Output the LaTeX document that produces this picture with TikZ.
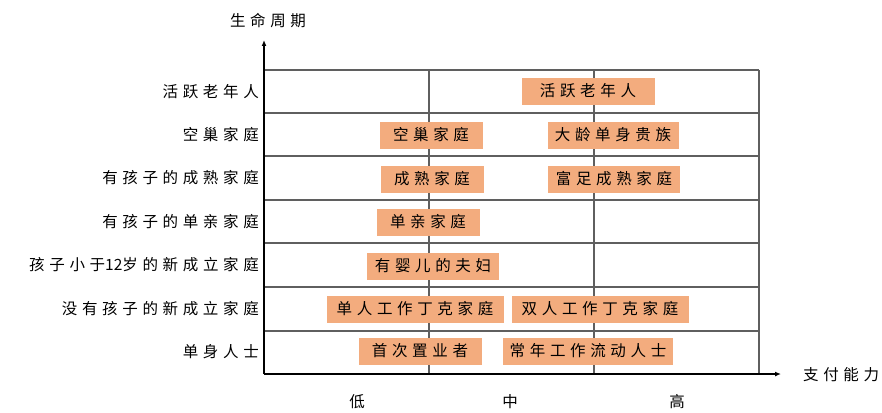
\documentclass[tikz,border=0pt]{standalone}
\usepackage{fontspec}
\setmainfont{Noto Sans CJK SC}[LetterSpace=30]
\usetikzlibrary{positioning, arrows.meta}

\definecolor{cellorange}{RGB}{243,172,126}
\definecolor{gridgray}{RGB}{95,95,95}

\begin{document}
\begin{tikzpicture}[
    x=1pt, y=-1pt,
    >={Latex[length=6pt, width=5pt]},
    cell/.style={fill=cellorange, minimum height=27pt, inner sep=0pt, font=\fontsize{15.5}{17}\selectfont},
    row_label/.style={anchor=east, inner sep=0pt, font=\fontsize{15.5}{17}\selectfont},
    axis_label/.style={inner sep=0pt, font=\fontsize{15.5}{17}\selectfont},
    grid_line/.style={gridgray, line width=1.2pt},
    axis_line/.style={->, black, line width=1.4pt}
]
\useasboundingbox (0,0) rectangle (882,412);

% 1. axes
\coordinate (origin) at (264,374);
\coordinate (ytip) at (264,40);
\coordinate (xtip) at (781,374);

% 2. grid
\foreach \yy in {70,113,156,200,243,287,331}
    \draw[grid_line] (264,\yy) -- (759,\yy);
\draw[grid_line] (429,70) -- (429,374);
\draw[grid_line] (594,70) -- (594,374);
\draw[grid_line] (759,70) -- (759,374);

\draw[axis_line] (origin) -- (ytip);
\draw[axis_line] (origin) -- (xtip);

\node[axis_label] (ytitle) at (268,21) {生命周期};
\node[axis_label, anchor=west] (xtitle) at (803,375) {支付能力};
\node[axis_label] (low) at (357,402) {低};
\node[axis_label] (mid) at (510,402) {中};
\node[axis_label] (high) at (677,402) {高};

% 3. row labels
\node[row_label] (r_old) at (259,92) {活跃老年人};
\node[row_label] (r_empty) at (259,135) {空巢家庭};
\node[row_label] (r_mature) at (259,178) {有孩子的成熟家庭};
\node[row_label] (r_single_parent) at (259,222) {有孩子的单亲家庭};
\node[row_label] (r_young_kids) at (259,265) {孩子小于{\addfontfeature{LetterSpace=0}12}岁的新成立家庭};
\node[row_label] (r_dink) at (259,309) {没有孩子的新成立家庭};
\node[row_label] (r_single) at (259,352) {单身人士};

% 4. cells
\node[cell, minimum width=133pt] (c_old) at (588,91) {活跃老年人};
\node[cell, minimum width=103pt] (c_empty) at (431,135) {空巢家庭};
\node[cell, minimum width=131pt] (c_bachelor) at (613,135) {大龄单身贵族};
\node[cell, minimum width=103pt] (c_mature) at (432,179) {成熟家庭};
\node[cell, minimum width=132pt] (c_rich) at (614,179) {富足成熟家庭};
\node[cell, minimum width=103pt] (c_single_parent) at (428,222) {单亲家庭};
\node[cell, minimum width=132pt] (c_baby) at (433,266) {有婴儿的夫妇};
\node[cell, minimum width=177pt] (c_dink_one) at (415,309) {单人工作丁克家庭};
\node[cell, minimum width=177pt] (c_dink_two) at (600,309) {双人工作丁克家庭};
\node[cell, minimum width=123pt] (c_first_home) at (420,351) {首次置业者};
\node[cell, minimum width=170pt] (c_mobile) at (588,351) {常年工作流动人士};

\end{tikzpicture}
\end{document}
